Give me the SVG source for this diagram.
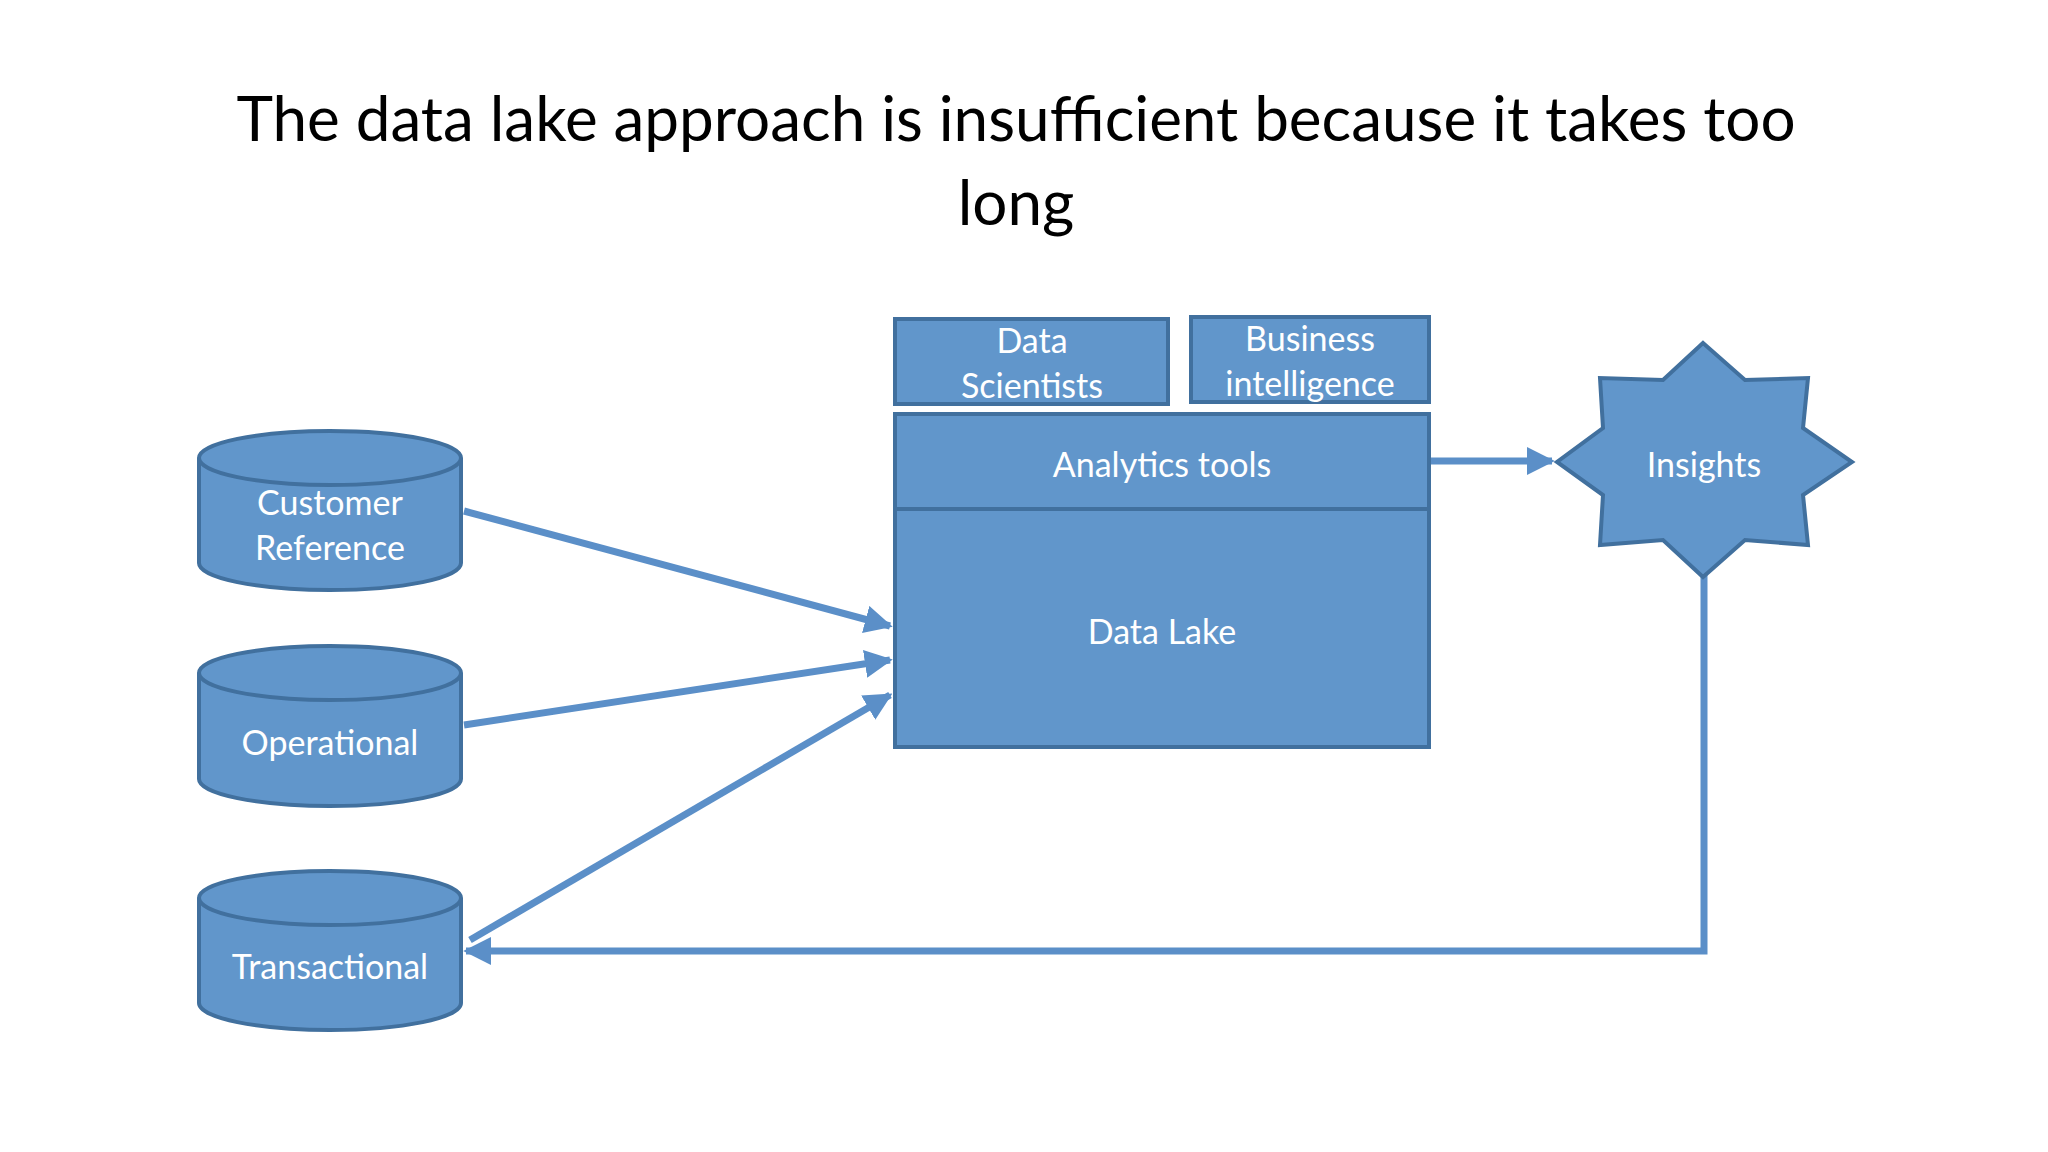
<svg xmlns="http://www.w3.org/2000/svg" width="2048" height="1152" viewBox="0 0 2048 1152">
<style>
.n{fill:#6196cb;stroke:#41709e;stroke-width:4}
.t{font-family:Lato,"Open Sans",sans-serif;font-size:34px;fill:#fff;text-anchor:middle}
.c{stroke:#5b8fc8;stroke-width:7;fill:none}
</style>
<defs><marker id="a" viewBox="0 0 10 10" refX="9" refY="5" markerWidth="4" markerHeight="4" orient="auto-start-reverse"><path d="M0,0L10,5L0,10z" fill="#5b8fc8"/></marker></defs>
<rect width="2048" height="1152" fill="#fff"/>
<text x="1016" y="141" font-family="Lato,'Open Sans',sans-serif" font-size="62" text-anchor="middle" fill="#000">The data lake approach is insufficient because it takes too</text>
<text x="1016" y="225" font-family="Lato,'Open Sans',sans-serif" font-size="62" text-anchor="middle" fill="#000">long</text>
<g id="connectors">
<line class="c" x1="464" y1="511" x2="890" y2="626" marker-end="url(#a)"/>
<line class="c" x1="464" y1="725" x2="890" y2="660" marker-end="url(#a)"/>
<line class="c" x1="470" y1="940" x2="890" y2="695" marker-end="url(#a)"/>
<line class="c" x1="1430" y1="461" x2="1552" y2="461" marker-end="url(#a)"/>
<polyline class="c" points="1704,575 1704,951 466,951" marker-end="url(#a)"/>
</g>
<g id="ds"><rect class="n" x="895" y="319" width="273" height="85"/><text class="t" x="1032" y="353">Data</text><text class="t" x="1032" y="398">Scientists</text></g>
<g id="bi"><rect class="n" x="1191" y="317" width="238" height="85"/><text class="t" x="1310" y="351">Business</text><text class="t" x="1310" y="396">intelligence</text></g>
<g id="analytics"><rect class="n" x="895" y="414" width="534" height="95"/><text class="t" x="1162" y="477">Analytics tools</text></g>
<g id="lake"><rect class="n" x="895" y="509" width="534" height="238"/><text class="t" x="1162" y="644">Data Lake</text></g>
<g id="insights"><polygon class="n" points="1703,343 1745,380 1808,378 1803,428 1852,462 1803,495 1808,545 1745,540 1703,577 1663,540 1600,545 1603,495 1557,462 1603,428 1600,378 1663,380"/><text class="t" x="1704" y="477">Insights</text></g>
<g id="cust"><path class="n" d="M199,458 V563 A131,27 0 0 0 461,563 V458 A131,27 0 0 0 199,458 A131,27 0 0 0 461,458"/><text class="t" x="330" y="515">Customer</text><text class="t" x="330" y="560">Reference</text></g>
<g id="oper"><path class="n" d="M199,673 V779 A131,27 0 0 0 461,779 V673 A131,27 0 0 0 199,673 A131,27 0 0 0 461,673"/><text class="t" x="330" y="755">Operational</text></g>
<g id="trans"><path class="n" d="M199,898 V1003 A131,27 0 0 0 461,1003 V898 A131,27 0 0 0 199,898 A131,27 0 0 0 461,898"/><text class="t" x="330" y="979">Transactional</text></g>
</svg>
